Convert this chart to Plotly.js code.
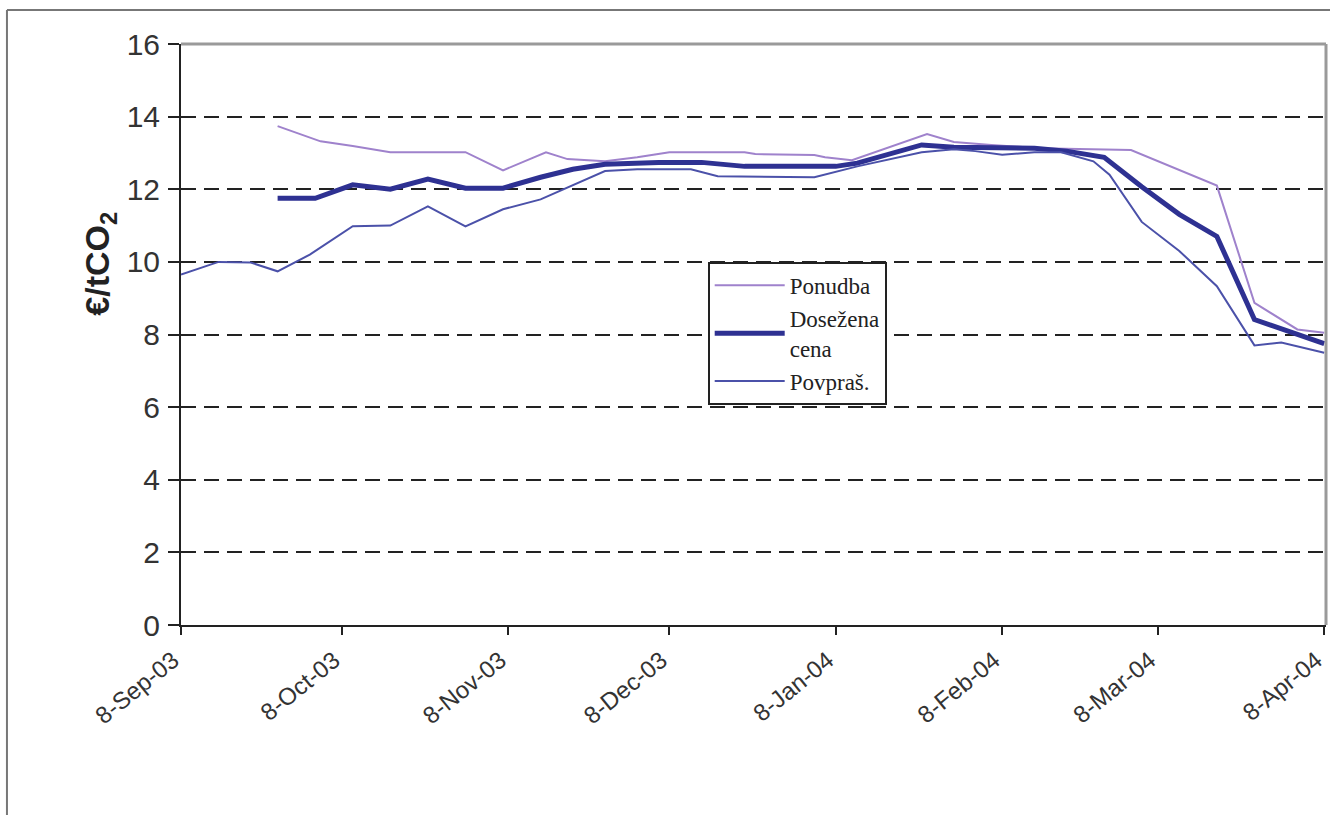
<!DOCTYPE html>
<html>
<head>
<meta charset="utf-8">
<script src="https://cdn.plot.ly/plotly-3.0.1.min.js"></script>
<style>
  html, body { margin: 0; padding: 0; background: #ffffff; }
  #chart { width: 1330px; height: 815px; }
</style>
</head>
<body>
<div id="chart"></div>
<script>
// ---- Data ----
const ponudbaDates = ['2003-09-26','2003-10-04','2003-10-10','2003-10-17','2003-10-31','2003-11-07','2003-11-15','2003-11-19','2003-11-26','2003-12-02','2003-12-08','2003-12-22','2003-12-24','2004-01-04','2004-01-06','2004-01-11','2004-01-25','2004-01-30','2004-02-06','2004-02-15','2004-03-03','2004-03-11','2004-03-19','2004-03-26','2004-04-03','2004-04-08'];
const ponudba = [13.74,13.32,13.19,13.02,13.02,12.52,13.02,12.83,12.77,12.88,13.02,13.02,12.97,12.94,12.88,12.80,13.52,13.30,13.22,13.13,13.08,12.60,12.10,8.87,8.14,8.05];

const cenaDates = ['2003-09-26','2003-10-03','2003-10-10','2003-10-17','2003-10-24','2003-10-31','2003-11-07','2003-11-14','2003-11-20','2003-11-26','2003-12-06','2003-12-14','2003-12-22','2004-01-08','2004-01-12','2004-01-24','2004-01-30','2004-02-14','2004-02-20','2004-02-27','2004-03-05','2004-03-12','2004-03-19','2004-03-26','2004-04-08'];
const cena = [11.75,11.75,12.12,12.00,12.28,12.03,12.03,12.33,12.55,12.69,12.74,12.74,12.63,12.63,12.72,13.22,13.16,13.13,13.05,12.88,12.07,11.31,10.70,8.41,7.75];

const povprasDates = ['2003-09-08','2003-09-15','2003-09-21','2003-09-26','2003-10-02','2003-10-10','2003-10-17','2003-10-24','2003-10-31','2003-11-07','2003-11-14','2003-11-20','2003-11-26','2003-12-02','2003-12-12','2003-12-17','2004-01-04','2004-01-12','2004-01-24','2004-01-30','2004-02-03','2004-02-08','2004-02-14','2004-02-19','2004-02-25','2004-02-28','2004-03-05','2004-03-12','2004-03-19','2004-03-26','2004-03-31','2004-04-08'];
const povpras = [9.65,10.00,9.98,9.74,10.20,10.98,11.00,11.53,10.98,11.45,11.72,12.10,12.50,12.55,12.55,12.36,12.33,12.63,13.02,13.10,13.05,12.95,13.02,13.02,12.77,12.40,11.10,10.30,9.33,7.70,7.78,7.50];

const seriesNames = ['Ponudba', 'Dosežena<br>cena', 'Povpraš.'];
const tickDates = ['2003-09-08','2003-10-08','2003-11-08','2003-12-08','2004-01-08','2004-02-08','2004-03-08','2004-04-08'];
const tickLabels = ['8-Sep-03','8-Oct-03','8-Nov-03','8-Dec-03','8-Jan-04','8-Feb-04','8-Mar-04','8-Apr-04'];
const yTicks = [0,2,4,6,8,10,12,14,16];
const yTitle = '€/tCO<sub>2</sub>';

// ---- Traces ----
const traces = [
  { x: ponudbaDates, y: ponudba, name: seriesNames[0], type: 'scatter', mode: 'lines',
    line: { color: '#9f82cc', width: 2 } },
  { x: cenaDates, y: cena, name: seriesNames[1], type: 'scatter', mode: 'lines',
    line: { color: '#2e3192', width: 5 } },
  { x: povprasDates, y: povpras, name: seriesNames[2], type: 'scatter', mode: 'lines',
    line: { color: '#4b51a9', width: 2 } },
  // invisible helper trace on overlay axis to draw the inner half of y ticks
  { x: [tickDates[0]], y: [yTicks[0]], yaxis: 'y2', type: 'scatter', mode: 'lines',
    showlegend: false, hoverinfo: 'skip', line: { color: 'rgba(0,0,0,0)' } }
];

const layout = {
  width: 1330,
  height: 815,
  paper_bgcolor: '#ffffff',
  plot_bgcolor: '#ffffff',
  margin: { l: 181, r: 4, t: 44, b: 190 },
  showlegend: true,
  legend: {
    x: 0.46, y: 0.625, xanchor: 'left', yanchor: 'top',
    bgcolor: '#ffffff', bordercolor: '#222222', borderwidth: 2,
    font: { family: '"Liberation Serif", "DejaVu Serif", serif', size: 23, color: '#222222' },
    itemwidth: 70, tracegroupgap: 0
  },
  xaxis: {
    type: 'date',
    range: ['2003-09-08', '2004-04-08 08:00'],
    tickvals: tickDates,
    ticktext: tickLabels,
    tickangle: -39,
    ticks: 'outside', ticklen: 8, tickwidth: 2, tickcolor: '#222222',
    ticklabelshift: -8,
    ticklabelstandoff: 2,
    showline: true, linecolor: '#222222', linewidth: 2,
    showgrid: false, zeroline: false,
    tickfont: { family: '"Liberation Sans", Arial, sans-serif', size: 24, color: '#333333' }
  },
  yaxis: {
    range: [0, 16],
    tickvals: yTicks,
    ticks: 'outside', ticklen: 11, tickwidth: 2, tickcolor: '#222222',
    ticklabelstandoff: 2,
    showline: true, linecolor: '#222222', linewidth: 2,
    showgrid: true, gridcolor: '#222222', gridwidth: 2, griddash: '15px,8px',
    zeroline: false,
    tickfont: { family: '"Liberation Sans", Arial, sans-serif', size: 30, color: '#333333' }
  },
  yaxis2: {
    overlaying: 'y', range: [0, 16], tickvals: yTicks,
    ticks: 'inside', ticklen: 11, tickwidth: 2, tickcolor: '#222222',
    showticklabels: false, showgrid: false, zeroline: false, showline: false
  },
  annotations: [
    { text: yTitle, xref: 'paper', yref: 'paper', x: -0.0707, y: 0.622,
      xanchor: 'center', yanchor: 'middle', textangle: -90, showarrow: false,
      font: { family: '"Liberation Sans", Arial, sans-serif', size: 34, color: '#222222', weight: 'bold' } }
  ],
  shapes: [
    // plot-area border (top and right), gray
    { type: 'line', xref: 'paper', yref: 'paper', x0: 0, x1: 1, y0: 1, y1: 1,
      line: { color: '#9a9a9a', width: 3 }, layer: 'above' },
    { type: 'line', xref: 'paper', yref: 'paper', x0: 1, x1: 1, y0: 0, y1: 1,
      line: { color: '#9a9a9a', width: 3 }, layer: 'above' },
    // outer chart frame (top and left)
    { type: 'line', xref: 'paper', yref: 'paper', x0: -0.152, x1: 1.02, y0: 1.0585, y1: 1.0585,
      line: { color: '#777777', width: 2 }, layer: 'above' },
    { type: 'line', xref: 'paper', yref: 'paper', x0: -0.152, x1: -0.152, y0: 1.0585, y1: -0.36,
      line: { color: '#777777', width: 2 }, layer: 'above' }
  ]
};

Plotly.newPlot('chart', traces, layout, { displayModeBar: false, staticPlot: true });
</script>
</body>
</html>
